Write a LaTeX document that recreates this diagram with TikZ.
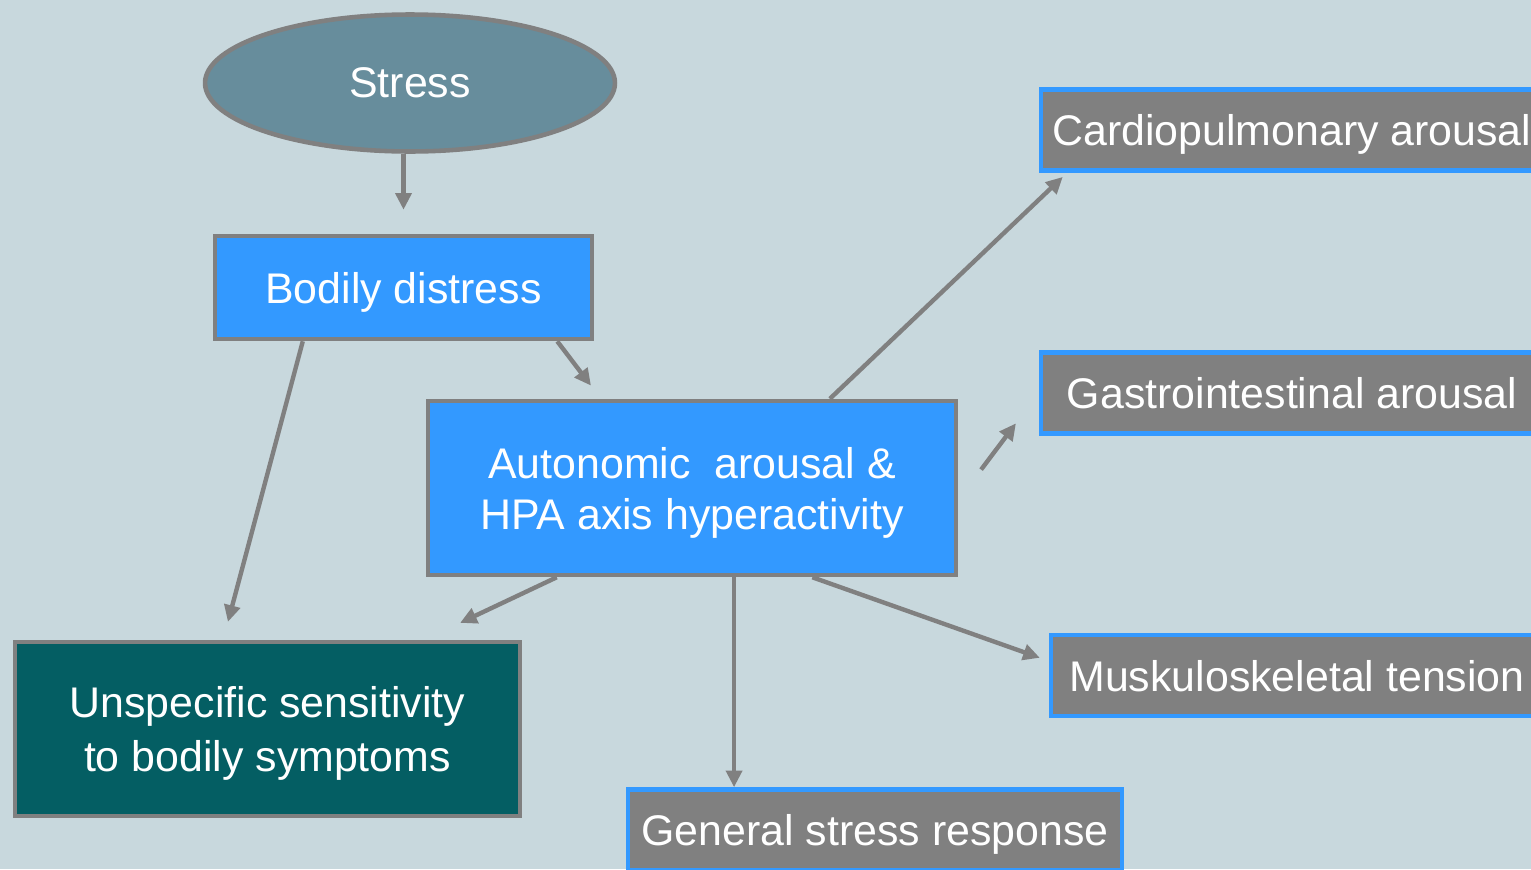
\documentclass[tikz,border=0pt]{standalone}
\usepackage{fontspec}
\setmainfont{Liberation Sans}
\usetikzlibrary{shapes.geometric,arrows.meta,calc}
\definecolor{slidebg}{RGB}{200,216,221}
\definecolor{stressfill}{RGB}{103,141,156}
\definecolor{boxblue}{RGB}{51,153,255}
\definecolor{boxteal}{RGB}{4,94,99}
\definecolor{linegray}{RGB}{128,128,128}

\begin{document}
\begin{tikzpicture}[x=0.02cm,y=-0.02cm,>={Triangle[length=9.5pt,width=9pt]},
                   every node/.style={font=\fontsize{24.4}{29}\selectfont,text=white,text depth=0pt},
                   mainbox/.style={rectangle,draw=linegray,line width=2.6pt,inner sep=0pt,align=center},
                   outbox/.style={rectangle,draw=boxblue,fill=linegray,line width=2.6pt,inner sep=0pt,minimum height=1.62cm},
                   arr/.style={->,draw=linegray,line width=2.5pt}]
\useasboundingbox (0,0) rectangle (1531,869);
\fill[slidebg] (0,0) rectangle (1531,869);
\clip (0,0) rectangle (1531,869);

\node[ellipse,draw=linegray,fill=stressfill,line width=2.6pt,inner sep=0pt,
      minimum width=8.2cm,minimum height=2.74cm] (stress) at (410,83) {Stress};
\node[mainbox,fill=boxblue,minimum width=7.54cm,minimum height=2.06cm] (bodily) at (403.5,287.5) {Bodily distress};
\node[mainbox,fill=boxblue,minimum width=10.56cm,minimum height=3.48cm] (auto) at (692,488)
  {Autonomic~~arousal \&\\HPA axis hyperactivity};
\node[mainbox,fill=boxteal,minimum width=10.1cm,minimum height=3.48cm,
      font=\fontsize{24.4}{30.5}\selectfont] (unsp) at (267.5,729)
  {Unspecific sensitivity\\to bodily symptoms};

\foreach \nm/\x/\y/\w/\txt in {cardio/1292/130/10.04/Cardiopulmonary arousal,
                               gastro/1292/393/10.04/Gastrointestinal arousal,
                               musk/1297/675.5/9.84/Muskuloskeletal tension,
                               general/875/830/9.88/General stress response}{
  \node[outbox,minimum width=\w cm] (\nm) at (\x,\y) {\txt};
}

\draw[arr,shorten >=0.48cm] (stress.south -| bodily.north) -- (bodily.north);
\draw[arr,shorten >=0.37cm] ($(bodily.south west)!.236!(bodily.south east)$) -- ($(unsp.north west)!.413!(unsp.north east)$);
\draw[arr,shorten >=0.33cm] ($(bodily.south west)!.903!(bodily.south east)$) -- ($(auto.north west)!.329!(auto.north east)$);
\draw[arr,shorten >=0.12cm] ($(auto.north west)!.759!(auto.north east)$) -- ($(cardio.south west)!.056!(cardio.south east)$);
\draw[arr,shorten <=0.76cm,shorten >=0.76cm] ($(auto.north east)!.567!(auto.south east)$) -- (gastro.west);
\draw[arr,shorten >=0.79cm] ($(auto.south west)!.246!(auto.south east)$) -- ($(unsp.north west)!.808!(unsp.north east)$);
\draw[arr] ($(auto.south west)!.579!(auto.south east)$) coordinate (gsr) -- (gsr |- general.north);
\draw[arr,shorten >=0.19cm] ($(auto.south west)!.726!(auto.south east)$) -- ($(musk.north west)!.33!(musk.south west)$);
\end{tikzpicture}
\end{document}
